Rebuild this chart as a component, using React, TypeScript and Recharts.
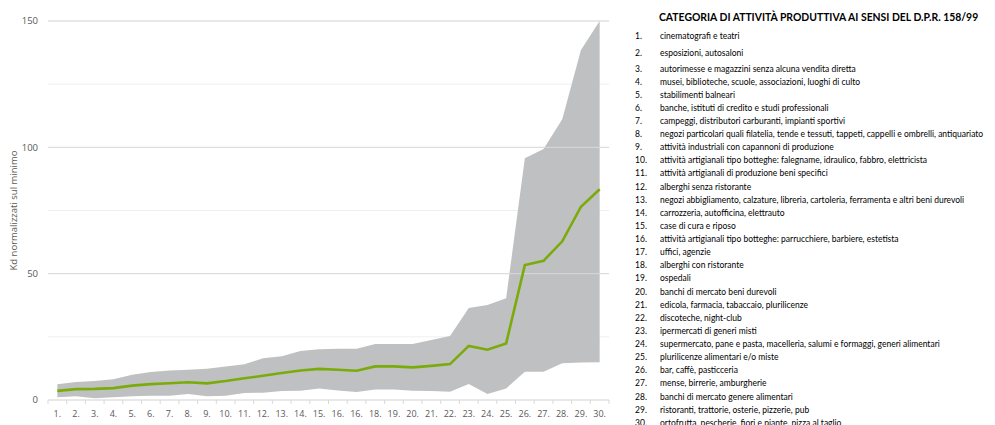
import React from 'react';
import { ComposedChart, Area, Line, XAxis, YAxis, CartesianGrid, ReferenceLine } from 'recharts';

const categories = [
  '1.', '2.', '3.', '4.', '5.', '6.', '7.', '8.', '9.', '10.',
  '11.', '12.', '13.', '14.', '15.', '16.', '16.', '18.', '19.', '20.',
  '21.', '22.', '23.', '24.', '25.', '26.', '27.', '28.', '29.', '30.',
];

const minValues = [
  1.1, 1.5, 0.7, 1.1, 1.5, 1.7, 1.7, 2.4, 1.5, 1.7,
  2.8, 2.9, 3.6, 3.7, 4.6, 3.8, 3.2, 4.2, 4.2, 3.7,
  3.6, 3.3, 6.3, 2.4, 4.6, 11.2, 11.2, 14.5, 14.8, 14.9,
];

const maxValues = [
  6.2, 7.1, 7.5, 8.2, 10.0, 11.1, 11.7, 12.0, 12.4, 13.3,
  14.1, 16.5, 17.3, 19.4, 20.1, 20.3, 20.3, 22.2, 22.2, 22.2,
  23.7, 25.3, 36.4, 37.6, 40.3, 95.7, 99.3, 111.1, 138.5, 150,
];

const typicalValues = [
  3.6, 4.3, 4.4, 4.7, 5.7, 6.3, 6.6, 7.0, 6.6, 7.5,
  8.6, 9.6, 10.7, 11.7, 12.3, 12.0, 11.6, 13.3, 13.3, 12.9,
  13.5, 14.2, 21.4, 19.9, 22.4, 53.4, 55.1, 62.8, 76.5, 83.4,
];

const yTicks = [0, 25, 50, 75, 100, 125, 150];
const labeledTicks = [0, 50, 100, 150];
const majorGridValues = [50, 100, 150];
const yAxisLabel = 'Kd normalizzati sul minimo';

const legendTitle = 'CATEGORIA DI ATTIVITÀ PRODUTTIVA AI SENSI DEL D.P.R. 158/99';
const legendItems = [
  'cinematografi e teatri',
  'esposizioni, autosaloni',
  'autorimesse e magazzini senza alcuna vendita diretta',
  'musei, biblioteche, scuole, associazioni, luoghi di culto',
  'stabilimenti balneari',
  'banche, istituti di credito e studi professionali',
  'campeggi, distributori carburanti, impianti sportivi',
  'negozi particolari quali filatelia, tende e tessuti, tappeti, cappelli e ombrelli, antiquariato',
  'attività industriali con capannoni di produzione',
  'attività artigianali tipo botteghe: falegname, idraulico, fabbro, elettricista',
  'attività artigianali di produzione beni specifici',
  'alberghi senza ristorante',
  'negozi abbigliamento, calzature, libreria, cartoleria, ferramenta e altri beni durevoli',
  'carrozzeria, autofficina, elettrauto',
  'case di cura e riposo',
  'attività artigianali tipo botteghe: parrucchiere, barbiere, estetista',
  'uffici, agenzie',
  'alberghi con ristorante',
  'ospedali',
  'banchi di mercato beni durevoli',
  'edicola, farmacia, tabaccaio, plurilicenze',
  'discoteche, night-club',
  'ipermercati di generi misti',
  'supermercato, pane e pasta, macelleria, salumi e formaggi, generi alimentari',
  'plurilicenze alimentari e/o miste',
  'bar, caffè, pasticceria',
  'mense, birrerie, amburgherie',
  'banchi di mercato genere alimentari',
  'ristoranti, trattorie, osterie, pizzerie, pub',
  'ortofrutta, pescherie, fiori e piante, pizza al taglio',
];

const data = categories.map((label, i) => ({
  label,
  range: [minValues[i], maxValues[i]],
  value: typicalValues[i],
}));

const CHART_W = 620;
const CHART_H = 425;
const Y_AXIS_W = 48;
const MARGIN = { top: 21, right: 11, left: 0, bottom: 0 };
const PLOT_W = CHART_W - MARGIN.left - MARGIN.right - Y_AXIS_W;
const BAND = PLOT_W / categories.length;
const TEXT_COLOR = '#595959';
const FONT = "'Open Sans', sans-serif";

const XTick = (props: any) => {
  const { x, y, payload, index } = props;
  const last = index === categories.length - 1;
  return (
    <g>
      <line x1={x - BAND / 2} x2={x - BAND / 2} y1={y} y2={y + 4} stroke="#d9d9d9" />
      {last && <line x1={x + BAND / 2} x2={x + BAND / 2} y1={y} y2={y + 4} stroke="#d9d9d9" />}
      <text x={x} y={y + 17} textAnchor="middle" fill={TEXT_COLOR} fontSize={9} fontFamily={FONT}>
        {payload.value}
      </text>
    </g>
  );
};

const YLabel = (props: any) => {
  const { viewBox } = props;
  const cx = viewBox.x + 13;
  const cy = viewBox.y + viewBox.height / 2;
  return (
    <text
      x={cx}
      y={cy}
      transform={`rotate(-90 ${cx} ${cy})`}
      textAnchor="middle"
      dominantBaseline="central"
      fill={TEXT_COLOR}
      fontSize={9.5}
      fontFamily={FONT}
    >
      {yAxisLabel}
    </text>
  );
};

const itemCenter = (i: number) => {
  if (i === 0) return 36;
  if (i === 1) return 52.7;
  return 68.5 + (i - 2) * 13.12;
};

export default function App() {
  return (
    <div style={{ position: 'absolute', left: 0, top: 0, width: 995, height: 425, background: '#fff', overflow: 'hidden' }}>
      <ComposedChart width={CHART_W} height={CHART_H} data={data} margin={MARGIN}>
        <CartesianGrid horizontal vertical={false} stroke="#efefef" />
        {majorGridValues.map((v) => (
          <ReferenceLine key={v} y={v} stroke="#d9d9d9" strokeWidth={1} />
        ))}
        <XAxis
          dataKey="label"
          interval={0}
          tickLine={false}
          tickSize={0}
          tickMargin={0}
          height={25}
          padding={{ left: BAND / 2, right: BAND / 2 }}
          axisLine={{ stroke: '#d9d9d9' }}
          tick={<XTick />}
        />
        <YAxis
          width={Y_AXIS_W}
          domain={[0, 150]}
          ticks={yTicks}
          interval={0}
          axisLine={false}
          tickLine={false}
          tickSize={0}
          tickMargin={10}
          tick={{ fill: TEXT_COLOR, fontSize: 9.5, fontFamily: FONT }}
          tickFormatter={(v: number) => (labeledTicks.includes(v) ? String(v) : '')}
          label={<YLabel />}
        />
        <Area
          type="linear"
          dataKey="range"
          fill="#bfc0c2"
          fillOpacity={1}
          stroke="none"
          isAnimationActive={false}
        />
        <Line
          type="linear"
          dataKey="value"
          stroke="#7bab0a"
          strokeWidth={2.6}
          dot={false}
          activeDot={false}
          isAnimationActive={false}
        />
      </ComposedChart>
      <div
        style={{
          position: 'absolute',
          left: 659,
          top: 10,
          fontFamily: "Lato, 'Open Sans', sans-serif",
          fontWeight: 700,
          fontSize: 10.4,
          color: '#000',
          whiteSpace: 'nowrap',
          lineHeight: '14px',
        }}
      >
        {legendTitle}
      </div>
      {legendItems.map((item, i) => (
        <div
          key={i}
          style={{
            position: 'absolute',
            left: 635,
            top: itemCenter(i) - 6,
            height: 12,
            lineHeight: '12px',
            fontFamily: "Lato, 'Open Sans', sans-serif",
            fontSize: 8.5,
            color: '#000',
            whiteSpace: 'nowrap',
          }}
        >
          <span style={{ display: 'inline-block', width: 25 }}>{i + 1}.</span>
          <span>{item}</span>
        </div>
      ))}
    </div>
  );
}
